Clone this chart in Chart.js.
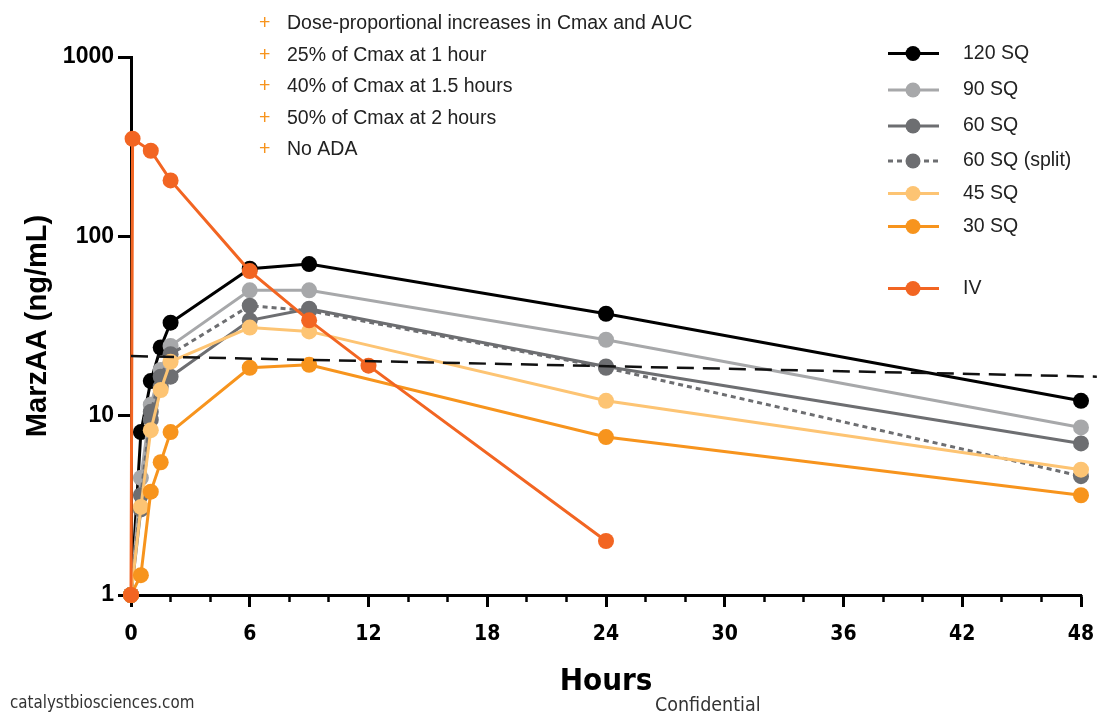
<!DOCTYPE html>
<html>
<head>
<meta charset="utf-8">
<script src="https://cdn.jsdelivr.net/npm/chart.js@4.4.1/dist/chart.umd.min.js"></script>
<style>
  html, body { margin:0; padding:0; background:#fff; }
  #wrap { width:1097px; height:717px; position:relative; }
</style>
</head>
<body>
<div id="wrap"><canvas id="myChart" width="1097" height="717"></canvas></div>
<script>
// sampling times (hours) and MarzAA levels (ng/mL)
var hoursSQ   = [0, 0.5, 1, 1.5, 2, 6, 9, 24, 48];
var sq120     = [1, 8.1, 15.6, 24, 33, 66, 70, 37, 12.1];
var sq90      = [1, 4.5, 11.5, 18, 24.5, 50, 50, 26.5, 8.6];
var sq60      = [1, 3.0, 9.5, 14.5, 16.5, 34, 39.5, 18.8, 7.0];
var sq60split = [1, 3.6, 10.5, 16.5, 22, 41, 38.5, 18.5, 4.6];
var sq45      = [1, 3.1, 8.3, 13.9, 20, 31, 29.5, 12.1, 5.0];
var sq30      = [1, 1.29, 3.77, 5.5, 8.1, 18.5, 19.2, 7.6, 3.6];
var hoursIV   = [0, 0.08, 1, 2, 6, 9, 12, 24];
var iv        = [1, 350, 300, 205, 64, 34, 19, 2];
var refHours  = [0, 48.8];
var refLevel  = [21.5, 16.5];

var yTicks = [1, 10, 100, 1000];
var notes = [
  'Dose-proportional increases in Cmax and AUC',
  '25% of Cmax at 1 hour',
  '40% of Cmax at 1.5 hours',
  '50% of Cmax at 2 hours',
  'No ADA'
];

var condensed = '"DejaVu Sans Condensed", "Liberation Sans Narrow", "Liberation Sans", Arial, sans-serif';

function pts(xs, ys){
  var out = [];
  for (var i=0;i<xs.length;i++){ out.push({x: xs[i], y: ys[i]}); }
  return out;
}

function series(label, xs, ys, color, order, dash){
  return {
    label: label,
    data: pts(xs, ys),
    borderColor: color,
    backgroundColor: color,
    pointBackgroundColor: color,
    pointBorderWidth: 0,
    pointRadius: 8,
    pointHoverRadius: 8,
    borderWidth: 3,
    borderDash: dash || [],
    order: order,
    clip: false,
    inLegend: true
  };
}

var datasets = [
  series('120 SQ', hoursSQ, sq120, '#000000', 7),
  series('90 SQ', hoursSQ, sq90, '#a7a8aa', 6),
  series('60 SQ', hoursSQ, sq60, '#6d6e71', 5),
  series('60 SQ (split)', hoursSQ, sq60split, '#6d6e71', 4, [5, 4]),
  series('45 SQ', hoursSQ, sq45, '#fdc473', 3),
  series('30 SQ', hoursSQ, sq30, '#f7941d', 2),
  series('IV', hoursIV, iv, '#f26522', 1),
  {
    label: 'ref',
    data: pts(refHours, refLevel),
    borderColor: '#111',
    borderWidth: 2.5,
    borderDash: [17, 9],
    pointRadius: 0,
    order: 0,
    clip: false
  }
];

// legend + bullet notes + footer drawn on the canvas
var extras = {
  id: 'extras',
  afterDraw: function(chart){
    var c = chart.ctx;
    c.save();
    // notes
    var noteY = [24, 55.5, 87, 118.5, 150];
    c.textBaseline = 'middle';
    for (var i=0;i<notes.length;i++){
      c.font = '19.5px "Liberation Sans", Arial, sans-serif';
      c.fillStyle = '#f7941d';
      c.fillText('+', 259, noteY[i]);
      c.fillStyle = '#222';
      c.fillText(notes[i], 287, noteY[i]);
    }
    // legend
    var legY = [53.5, 90, 126, 161, 193.5, 226.5, 288.5];
    var k = 0;
    chart.data.datasets.forEach(function(ds){
      if (!ds.inLegend) return;
      var y = legY[k++];
      c.beginPath();
      c.strokeStyle = ds.borderColor;
      c.lineWidth = 3;
      c.setLineDash(ds.borderDash.length ? [5, 4] : []);
      c.moveTo(888, y); c.lineTo(939, y);
      c.stroke();
      c.setLineDash([]);
      c.beginPath();
      c.fillStyle = ds.borderColor;
      c.arc(913, y, 7.5, 0, Math.PI*2);
      c.fill();
      c.fillStyle = '#222';
      c.font = '19.5px "Liberation Sans", Arial, sans-serif';
      c.fillText(ds.label, 963, y);
    });
    // footer
    c.fillStyle = '#333';
    c.font = '16.8px ' + condensed;
    c.fillText('catalystbiosciences.com', 10, 704);
    c.font = '19.5px ' + condensed;
    c.fillText('Confidential', 655, 706);
    c.restore();
  }
};

var ctx = document.getElementById('myChart').getContext('2d');
var chart = new Chart(ctx, {
  type: 'line',
  data: { datasets: datasets },
  plugins: [extras],
  options: {
    responsive: false,
    animation: false,
    events: [],
    layout: { padding: { top: 57, right: 16, left: 0, bottom: 0 } },
    plugins: { legend: { display: false }, tooltip: { enabled: false } },
    scales: {
      x: {
        type: 'linear',
        position: 'bottom',
        weight: 1,
        min: 0, max: 48,
        afterFit: function(s){ s.height = 122; s.paddingLeft = 0; s.paddingRight = 0; },
        ticks: {
          stepSize: 6,
          padding: 15,
          color: '#000',
          font: { family: condensed, size: 21, weight: 'bold' }
        },
        grid: { drawOnChartArea: false, tickLength: 12, tickWidth: 3, tickColor: '#000' },
        border: { color: '#000', width: 3 },
        title: {
          display: true,
          text: 'Hours',
          color: '#000',
          padding: { top: 0, bottom: 16 },
          font: { family: condensed, size: 31, weight: 'bold' }
        }
      },
      xMinor: {
        type: 'linear',
        position: 'bottom',
        weight: 0,
        min: 0, max: 48,
        afterFit: function(s){ s.height = 0; s.paddingLeft = 0; s.paddingRight = 0; },
        ticks: { stepSize: 2, display: false },
        grid: { drawOnChartArea: false, tickLength: 7, tickWidth: 2.5, tickColor: '#000' },
        border: { display: false }
      },
      y: {
        type: 'logarithmic',
        min: 1, max: 1000,
        afterFit: function(s){ s.width = 131; },
        afterBuildTicks: function(s){ s.ticks = yTicks.map(function(v){ return {value: v}; }); },
        ticks: {
          padding: 4,
          color: '#000',
          callback: function(v){ return String(v); },
          font: { size: 23, weight: 'bold' }
        },
        grid: { drawOnChartArea: false, tickLength: 13, tickWidth: 3, tickColor: '#000' },
        border: { color: '#000', width: 3 },
        title: {
          display: true,
          text: 'MarzAA (ng/mL)',
          color: '#000',
          padding: { top: 21, bottom: 0 },
          font: { size: 29, weight: 'bold' }
        }
      }
    }
  }
});
Chart.defaults.font.family = '"Liberation Sans", Arial, sans-serif';
</script>
</body>
</html>
